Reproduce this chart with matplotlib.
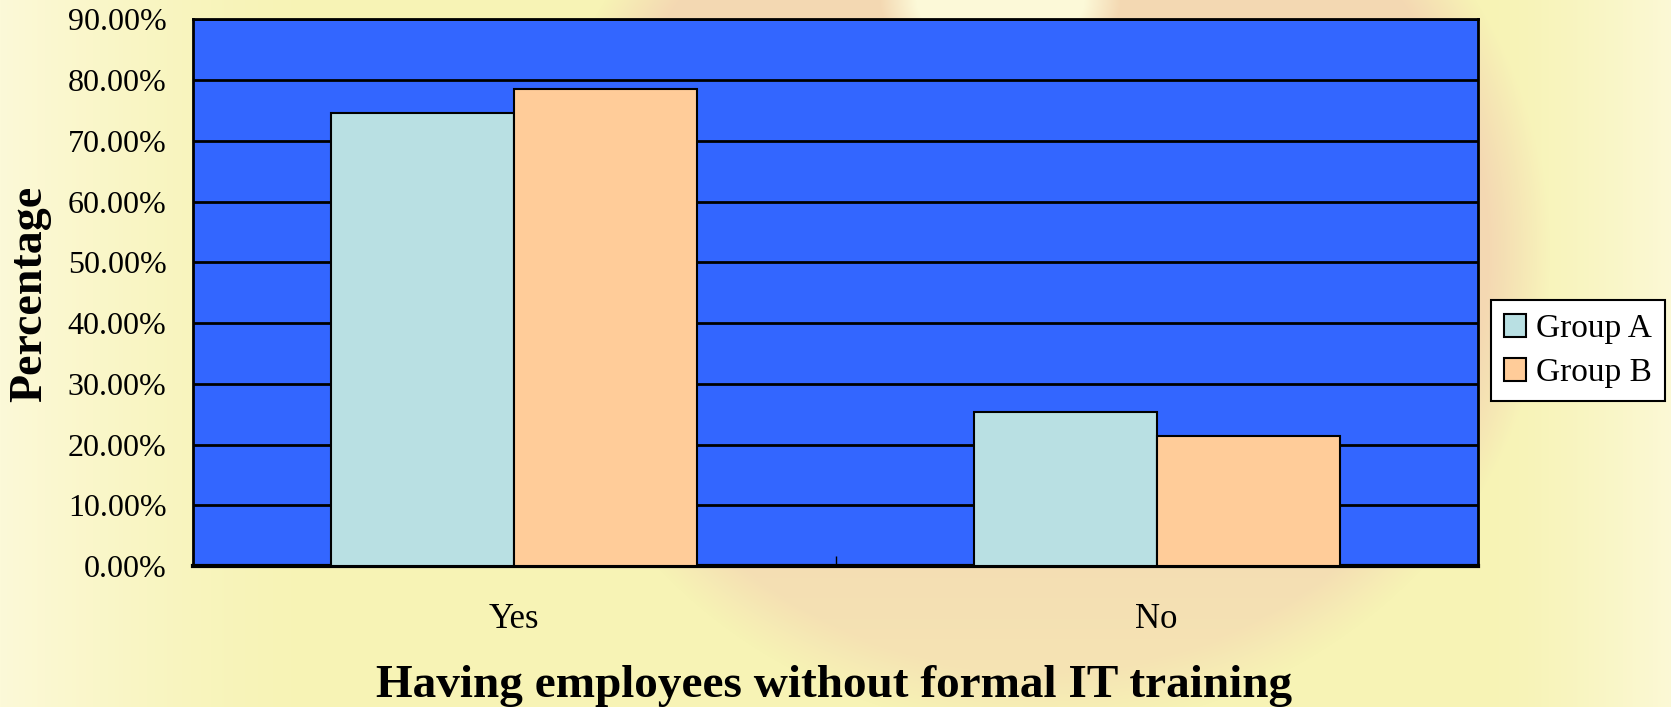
import numpy as np
import matplotlib
matplotlib.use("Agg")
import matplotlib.pyplot as plt
from matplotlib.ticker import FuncFormatter, FixedLocator

categories = ["Yes", "No"]
series_names = ["Group A", "Group B"]
group_a = [74.6, 25.4]
group_b = [78.6, 21.4]
colors = ["#B9E0E3", "#FFCC99"]

plt.rcParams["font.family"] = ["Liberation Serif", "DejaVu Serif"]

W, H = 1671, 707
fig = plt.figure(figsize=(W / 100, H / 100), dpi=100)

# background decoration
bg = fig.add_axes([0, 0, 1, 1], zorder=-10)
yy, xx = np.mgrid[0:H, 0:W].astype(float)
base = np.array([247, 243, 181]) / 255.0
light = np.array([252, 249, 216]) / 255.0
orange = np.array([243, 208, 178]) / 255.0
tl = np.clip(1 - xx / 320.0, 0, 1) ** 1.5
tr = np.clip((xx - 1480) / 200.0, 0, 1) ** 1.5
t = np.maximum(tl, tr)
img = base[None, None, :] * (1 - t[..., None]) + light[None, None, :] * t[..., None]
d = np.sqrt(((xx - 1040) / 510.0) ** 2 + ((yy - 250) / 480.0) ** 2)
m = np.clip((1.0 - d) / 0.12, 0, 1) * (0.75 - 0.35 * np.clip((yy - 450) / 250.0, 0, 1))
img = img * (1 - m[..., None]) + orange[None, None, :] * m[..., None]
d2 = np.sqrt(((xx - 1000) / 120.0) ** 2 + ((yy - 0) / 70.0) ** 2)
m2 = np.clip((1.0 - d2) / 0.3, 0, 1)
img = img * (1 - m2[..., None]) + light[None, None, :] * m2[..., None]
bg.imshow(img, extent=[0, W, H, 0], aspect="auto", interpolation="bilinear")
bg.set_axis_off()

ax = fig.add_axes([193 / W, 1 - 566 / H, (1478 - 193) / W, (566 - 19.4) / H])
ax.set_facecolor("#3366FF")

x = np.arange(len(categories))
w = 0.285
bars_a = ax.bar(x - w / 2, group_a, width=w, color=colors[0], edgecolor="black",
                linewidth=1.5, label=series_names[0], zorder=3)
bars_b = ax.bar(x + w / 2, group_b, width=w, color=colors[1], edgecolor="black",
                linewidth=1.5, label=series_names[1], zorder=3)

ax.set_xlim(-0.5, 1.5)
ax.set_ylim(0, 90)
ax.set_yticks(np.arange(0, 91, 10))
ax.yaxis.set_major_formatter(FuncFormatter(lambda v, p: f"{v:.2f}%"))
ax.grid(axis="y", color="black", linewidth=2, zorder=1)
ax.set_axisbelow(True)

ax.set_xticks(x)
ax.set_xticklabels(categories)
ax.tick_params(axis="x", which="major", length=0, pad=27, labelsize=25)
ax.xaxis.set_minor_locator(FixedLocator([0.5]))
ax.tick_params(axis="x", which="minor", direction="in", length=7, width=1, color="black")
ax.tick_params(axis="y", length=0, pad=19, labelsize=23)

for s in ax.spines.values():
    s.set_linewidth(2)
    s.set_color("black")
ax.spines["bottom"].set_linewidth(3)

fig.text(834 / W, 1 - 697 / H, "Having employees without formal IT training",
         ha="center", va="baseline", fontsize=34, fontweight="bold")
fig.text(30 / W, 1 - 294 / H, "Percentage", rotation=90, ha="center", va="center",
         fontsize=33, fontweight="bold", rotation_mode="anchor")

leg = fig.legend(handles=[bars_a, bars_b], labels=series_names, loc="center left",
                 bbox_to_anchor=(1491 / W, 1 - 351 / H), fontsize=24, frameon=True,
                 fancybox=False, shadow=False, borderpad=0.4, labelspacing=0.4,
                 handlelength=0.65, handleheight=0.65, handletextpad=0.3, borderaxespad=0)
leg.get_frame().set_edgecolor("black")
leg.get_frame().set_linewidth(1.5)
leg.get_frame().set_facecolor("white")
leg.get_frame().set_alpha(1)

fig.savefig("out.png", dpi=100)
